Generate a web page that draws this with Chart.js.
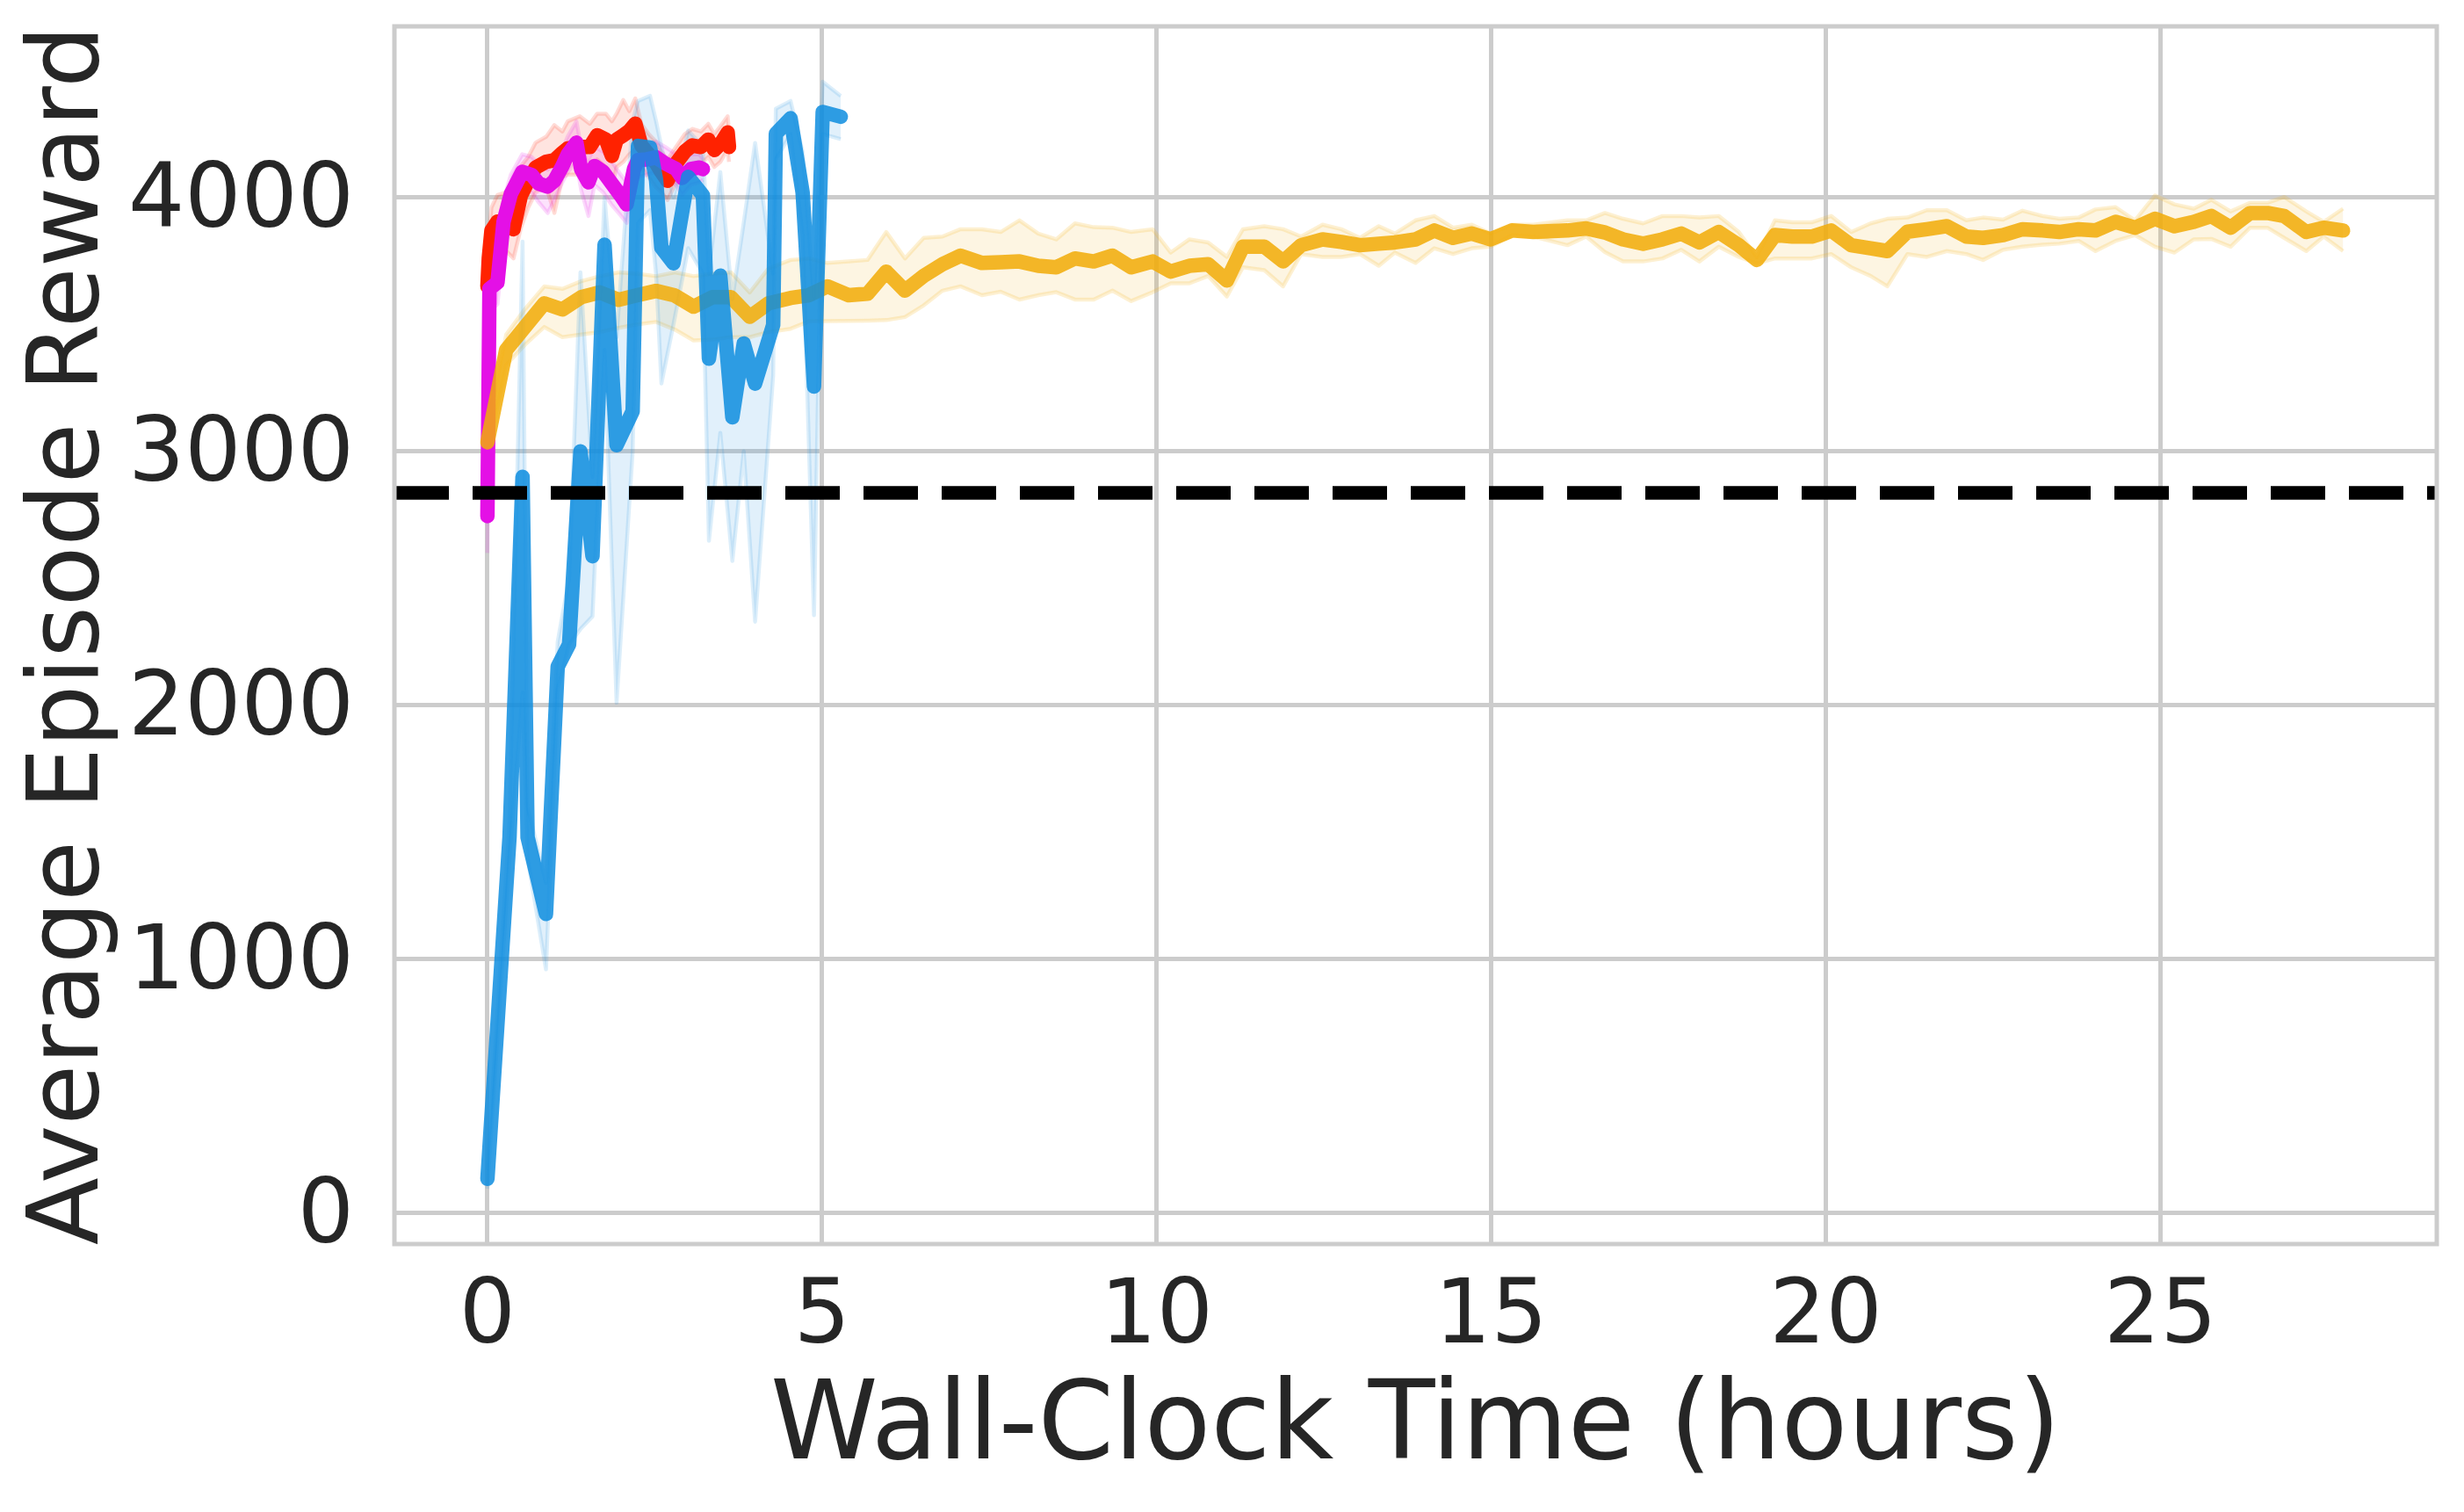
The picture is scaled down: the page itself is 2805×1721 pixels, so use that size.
<!DOCTYPE html>
<html>
<head>
<meta charset="utf-8">
<script src="https://cdn.jsdelivr.net/npm/chart.js@4.4.1/dist/chart.umd.min.js"></script>
<style>
  html, body { margin: 0; padding: 0; background: #fff; }
  #wrap { width: 2805px; height: 1721px; }
</style>
</head>
<body>
<div id="wrap"><canvas id="chart"></canvas></div>
<script>
// Axis ticks and limits
const xTicks = [0, 5, 10, 15, 20, 25];
const yTicks = [0, 1000, 2000, 3000, 4000];
const xLimits = [-1.39, 29.13];
const yLimits = [-122, 4674];

// Dashed reference level
const baselineReward = 2837;

// Blue run (hours, mean, band)
const blueHours = [0.0, 0.33, 0.525, 0.6, 0.875, 1.05, 1.22, 1.39, 1.57, 1.75,
                   1.93, 2.17, 2.25, 2.43, 2.52, 2.6, 2.78, 3.0, 3.22, 3.31,
                   3.48, 3.66, 3.83, 4.0, 4.27, 4.31, 4.53, 4.71, 4.88, 5.01,
                   5.28];
const blueMean = [135, 1480, 2900, 1480, 1178, 2152, 2240, 3000, 2587, 3814,
                  3024, 3158, 4203, 4197, 4069, 3802, 3741, 4081, 4008, 3365,
                  3692, 3134, 3425, 3267, 3498, 4251, 4312, 4020, 3255, 4337,
                  4318];
const blueHigh = [170, 1550, 3826, 1600, 1300, 2250, 2500, 3705, 2900, 4000,
                  3450, 4300, 4380, 4400, 4300, 4200, 4000, 4264, 4200, 3700,
                  4100, 3600, 3900, 4215, 3700, 4350, 4380, 4180, 3600, 4456,
                  4400];
const blueLow = [96, 1400, 2050, 1400, 960, 2063, 2240, 2300, 2350, 3400,
                 2010, 3000, 3900, 3950, 3700, 3267, 3500, 3800, 3700, 2648,
                 3073, 2568, 3000, 2329, 3300, 4150, 4250, 3850, 2355, 4250,
                 4230];

// Red run
const redHours = [0.0, 0.02, 0.06, 0.15, 0.28, 0.39, 0.5, 0.61, 0.72, 0.88,
                  1.0, 1.12, 1.2, 1.38, 1.53, 1.64, 1.77, 1.86, 1.93, 2.03,
                  2.12, 2.21, 2.3, 2.41, 2.52, 2.6, 2.69, 2.82, 2.95, 3.06,
                  3.19, 3.3, 3.39, 3.48, 3.59, 3.61];
const redMean = [3650, 3760, 3870, 3905, 3900, 3875, 4008, 4066, 4118, 4141,
                 4147, 4176, 4193, 4199, 4199, 4245, 4228, 4164, 4228, 4245,
                 4262, 4291, 4205, 4170, 4135, 4100, 4066, 4135, 4181, 4205,
                 4199, 4228, 4187, 4210, 4256, 4199];
const redHigh = [3720, 3840, 3960, 4010, 4020, 4000, 4124, 4160, 4216, 4240,
                 4285, 4260, 4300, 4320, 4290, 4330, 4330, 4300, 4330, 4384,
                 4340, 4390, 4290, 4250, 4220, 4180, 4150, 4200, 4250, 4270,
                 4260, 4290, 4250, 4280, 4320, 4260];
const redLow = [3580, 3680, 3780, 3800, 3790, 3760, 3880, 3960, 4020, 4040,
                3939, 4080, 4090, 4090, 4100, 4150, 4120, 4040, 4120, 4140,
                4170, 4190, 4120, 4080, 4040, 4020, 3990, 4060, 4110, 4130,
                4130, 4160, 4120, 4140, 4190, 4140];

// Magenta run
const magHours = [0.0, 0.03, 0.15, 0.24, 0.35, 0.52, 0.66, 0.77, 0.9, 1.0,
                  1.12, 1.2, 1.33, 1.4, 1.51, 1.6, 1.73, 1.86, 1.99, 2.08,
                  2.19, 2.25, 2.38, 2.52, 2.65, 2.82, 2.91, 3.04, 3.17, 3.22];
const magMean = [2745, 3640, 3665, 3904, 4014, 4101, 4089, 4054, 4043, 4066,
                 4124, 4170, 4216, 4112, 4060, 4124, 4101, 4054, 4008, 3973,
                 4112, 4147, 4150, 4158, 4135, 4112, 4077, 4112, 4118, 4112];
const magHigh = [2850, 3720, 3760, 3990, 4090, 4170, 4160, 4130, 4110, 4140,
                 4190, 4240, 4300, 4200, 4150, 4200, 4180, 4140, 4090, 4060,
                 4180, 4210, 4210, 4220, 4200, 4170, 4140, 4170, 4170, 4150];
const magLow = [2600, 3550, 3580, 3820, 3940, 4030, 4020, 3980, 3939, 3990,
                4060, 4100, 4140, 4030, 3927, 4050, 4020, 3970, 3930, 3900,
                4040, 4080, 4090, 4100, 4070, 4050, 4010, 4050, 4060, 4070];

// Yellow run
const yelHours = [0.0, 0.28, 0.56, 0.85, 1.12, 1.4, 1.68, 1.96, 2.24, 2.52,
                  2.8, 3.08, 3.36, 3.64, 3.92, 4.2, 4.53, 4.8, 5.08, 5.4,
                  5.68, 5.96, 6.24, 6.52, 6.8, 7.07, 7.39, 7.67, 7.95, 8.23,
                  8.5, 8.78, 9.06, 9.34, 9.62, 9.94, 10.21, 10.49, 10.77, 11.05,
                  11.29, 11.61, 11.89, 12.16, 12.48, 12.76, 13.04, 13.32, 13.56, 13.87,
                  14.15, 14.43, 14.71, 14.99, 15.31, 15.63, 16.14, 16.42, 16.7, 16.97,
                  17.27, 17.56, 17.84, 18.11, 18.4, 18.7, 18.97, 19.24, 19.5, 19.79,
                  20.08, 20.38, 20.67, 20.92, 21.22, 21.51, 21.81, 22.1, 22.35, 22.65,
                  22.94, 23.24, 23.49, 23.78, 24.03, 24.33, 24.62, 24.92, 25.21, 25.5,
                  25.76, 26.05, 26.34, 26.6, 26.85, 27.18, 27.44, 27.73];
const yelMean = [3036, 3400, 3490, 3583, 3559, 3607, 3626, 3597, 3615, 3632,
                 3614, 3570, 3607, 3607, 3530, 3583, 3604, 3615, 3650, 3615,
                 3621, 3708, 3633, 3691, 3737, 3771, 3742, 3745, 3748, 3731,
                 3725, 3760, 3748, 3771, 3725, 3748, 3708, 3731, 3737, 3673,
                 3806, 3806, 3748, 3812, 3835, 3825, 3812, 3818, 3823, 3835,
                 3870, 3841, 3858, 3835, 3870, 3864, 3870, 3878, 3862, 3835,
                 3818, 3835, 3858, 3823, 3864, 3812, 3754, 3852, 3846, 3846,
                 3870, 3812, 3800, 3789, 3865, 3875, 3887, 3846, 3841, 3852,
                 3875, 3870, 3864, 3875, 3870, 3904, 3881, 3916, 3887, 3904,
                 3927, 3881, 3939, 3939, 3927, 3864, 3881, 3870];
const yelHigh = [3090, 3460, 3560, 3650, 3640, 3670, 3690, 3705, 3700, 3690,
                 3705, 3690, 3700, 3705, 3626, 3720, 3754, 3760, 3742, 3748,
                 3754, 3864, 3760, 3841, 3846, 3875, 3875, 3864, 3910, 3858,
                 3835, 3898, 3883, 3881, 3864, 3875, 3783, 3835, 3823, 3766,
                 3875, 3887, 3875, 3846, 3893, 3875, 3841, 3887, 3858, 3910,
                 3927, 3881, 3893, 3858, 3893, 3893, 3910, 3910, 3939, 3916,
                 3898, 3927, 3927, 3921, 3927, 3864, 3765, 3910, 3902, 3902,
                 3927, 3864, 3898, 3916, 3921, 3950, 3950, 3910, 3921, 3913,
                 3948, 3927, 3916, 3921, 3953, 3962, 3910, 4008, 3973, 3956,
                 3991, 3945, 3979, 3979, 4002, 3945, 3904, 3956];
const yelLow = [2990, 3340, 3420, 3490, 3450, 3460, 3470, 3486, 3500, 3510,
                3480, 3437, 3440, 3450, 3450, 3470, 3483, 3512, 3513, 3514,
                3515, 3517, 3529, 3575, 3633, 3650, 3615, 3629, 3598, 3615,
                3627, 3598, 3598, 3633, 3592, 3627, 3662, 3662, 3691, 3610,
                3725, 3714, 3650, 3777, 3766, 3766, 3777, 3731, 3783, 3742,
                3800, 3777, 3800, 3806, 3852, 3846, 3812, 3846, 3785, 3748,
                3748, 3760, 3794, 3748, 3806, 3766, 3740, 3760, 3760, 3760,
                3777, 3725, 3691, 3650, 3777, 3766, 3789, 3777, 3754, 3794,
                3806, 3814, 3818, 3829, 3789, 3829, 3852, 3806, 3783, 3835,
                3837, 3806, 3881, 3881, 3841, 3789, 3846, 3789];

const FONT = 'DejaVu Sans';
const INK = '#262626';
const GRID = '#cccccc';
const LINE_W = 16.5;

function pts(xs, ys) {
    return xs.map((x, i) => ({ x: x, y: ys[i] }));
}

// Solid mean line
function meanLine(label, xs, ys, color, order) {
    return {
        label: label,
        data: pts(xs, ys),
        borderColor: color,
        borderWidth: LINE_W,
        borderCapStyle: 'round',
        borderJoinStyle: 'round',
        pointRadius: 0,
        tension: 0,
        fill: false,
        order: order
    };
}

// Shaded band: upper edge fills down to the next dataset (lower edge)
function bandPair(label, xs, hi, lo, edge, face, order) {
    return [
        {
            label: label + ' high',
            data: pts(xs, hi),
            borderColor: edge,
            backgroundColor: face,
            borderWidth: 4.5,
            borderJoinStyle: 'round',
            pointRadius: 0,
            tension: 0,
            fill: '+1',
            order: order
        },
        {
            label: label + ' low',
            data: pts(xs, lo),
            borderColor: edge,
            borderWidth: 4.5,
            borderJoinStyle: 'round',
            pointRadius: 0,
            tension: 0,
            fill: false,
            order: order
        }
    ];
}

const datasets = [
    {
        label: 'baseline',
        data: [{ x: xLimits[0], y: baselineReward }, { x: xLimits[1], y: baselineReward }],
        borderColor: '#000000',
        borderWidth: 15.5,
        borderDash: [62, 27],
        borderCapStyle: 'butt',
        pointRadius: 0,
        fill: false,
        order: 0
    },
    meanLine('blue', blueHours, blueMean, 'rgba(14,141,223,0.85)', 1),
    meanLine('yellow', yelHours, yelMean, 'rgba(242,171,7,0.85)', 2),
    meanLine('magenta', magHours, magMean, 'rgb(228,16,230)', 3),
    meanLine('red', redHours, redMean, 'rgb(255,34,0)', 4),
    ...bandPair('blue', blueHours, blueHigh, blueLow, 'rgba(40,152,226,0.16)', 'rgba(40,152,226,0.14)', 5),
    ...bandPair('magenta', magHours, magHigh, magLow, 'rgba(228,16,230,0.16)', 'rgba(228,16,230,0.12)', 6),
    ...bandPair('red', redHours, redHigh, redLow, 'rgba(255,34,0,0.16)', 'rgba(255,34,0,0.12)', 7),
    ...bandPair('yellow', yelHours, yelHigh, yelLow, 'rgba(243,180,30,0.2)', 'rgba(243,180,30,0.13)', 8)
];

// Full box around the plot area (all four spines)
const framePlugin = {
    id: 'frame',
    afterDraw(chart) {
        const { ctx, chartArea: a } = chart;
        ctx.save();
        ctx.strokeStyle = GRID;
        ctx.lineWidth = 5;
        ctx.strokeRect(a.left, a.top, a.right - a.left, a.bottom - a.top);
        ctx.restore();
    }
};

const ctx = document.getElementById('chart').getContext('2d');
new Chart(ctx, {
    type: 'line',
    data: { datasets: datasets },
    plugins: [framePlugin],
    options: {
        responsive: true,
        maintainAspectRatio: false,
        devicePixelRatio: 1,
        animation: false,
        layout: { padding: { top: 30, right: 31, left: 0, bottom: 0 } },
        plugins: {
            legend: { display: false },
            tooltip: { enabled: false }
        },
        scales: {
            x: {
                type: 'linear',
                min: xLimits[0],
                max: xLimits[1],
                afterBuildTicks: (scale) => { scale.ticks = xTicks.map(v => ({ value: v })); },
                afterFit: (scale) => {
                    scale.height = 305;
                    scale.paddingLeft = 0;
                    scale.paddingRight = 0;
                },
                grid: { color: GRID, lineWidth: 5, drawTicks: false },
                border: { display: false },
                ticks: {
                    font: { family: FONT, size: 101 },
                    color: INK,
                    padding: 25,
                    maxRotation: 0,
                    callback: (v) => String(v)
                },
                title: {
                    display: true,
                    text: 'Wall-Clock Time (hours)',
                    font: { family: FONT, size: 124 },
                    color: INK,
                    padding: { top: 0, bottom: 19 }
                }
            },
            y: {
                type: 'linear',
                min: yLimits[0],
                max: yLimits[1],
                afterBuildTicks: (scale) => { scale.ticks = yTicks.map(v => ({ value: v })); },
                afterFit: (scale) => {
                    scale.width = 449;
                    scale.paddingTop = 0;
                    scale.paddingBottom = 0;
                },
                grid: { color: GRID, lineWidth: 5, drawTicks: false },
                border: { display: false },
                ticks: {
                    font: { family: FONT, size: 101 },
                    color: INK,
                    padding: 46,
                    labelOffset: 7,
                    callback: (v) => String(v)
                },
                title: {
                    display: true,
                    text: 'Average Episode Reward',
                    font: { family: FONT, size: 112 },
                    color: INK,
                    padding: { top: 15, bottom: 0 }
                }
            }
        }
    }
});
</script>
</body>
</html>
